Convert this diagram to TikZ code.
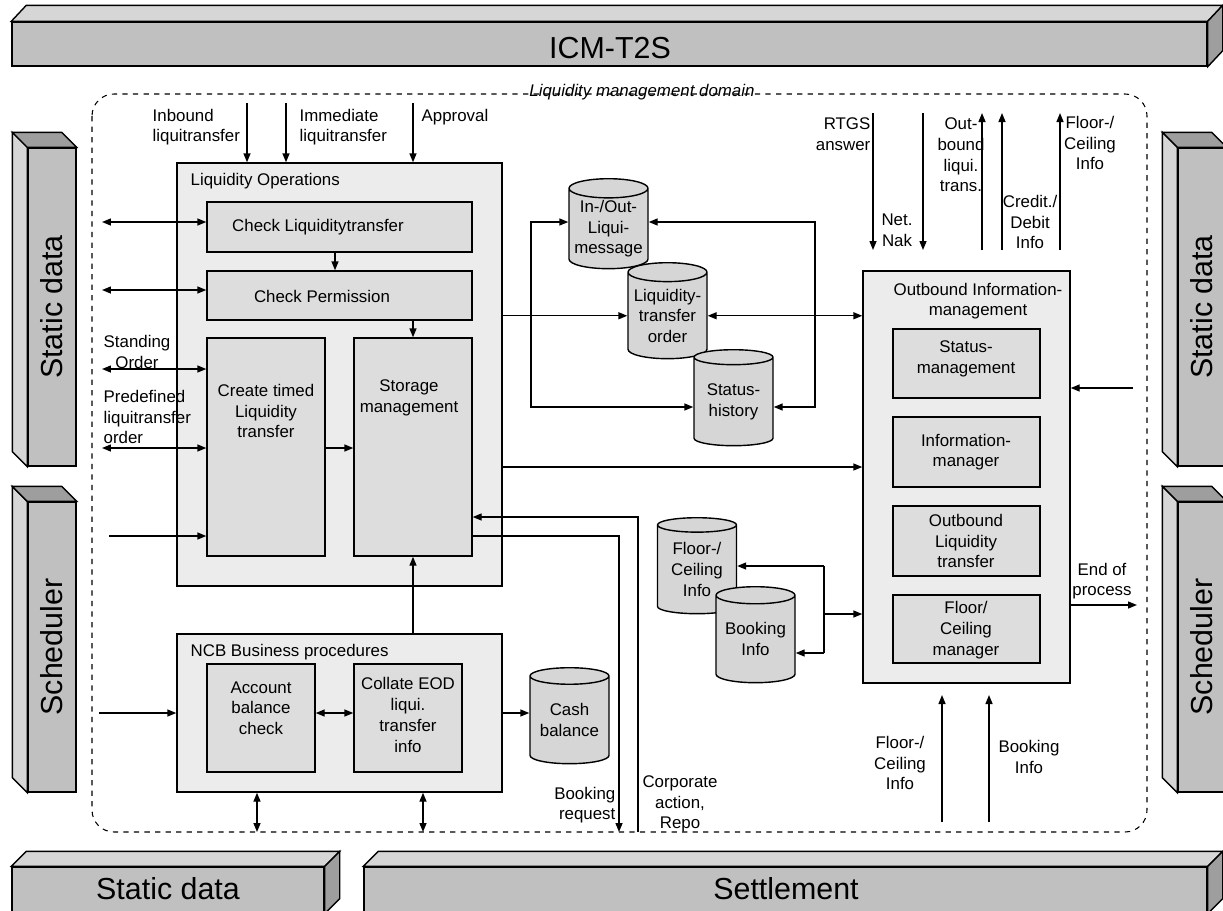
\documentclass[tikz,border=0pt]{standalone}
\usepackage{fontspec}
\setmainfont{Liberation Sans}
\usetikzlibrary{arrows.meta,shapes.geometric,fit}
\definecolor{panel}{RGB}{236,236,236}
\definecolor{procgray}{RGB}{221,221,221}
\definecolor{storegray}{RGB}{214,214,214}
\definecolor{barfront}{RGB}{192,192,192}
\definecolor{barlight}{RGB}{214,214,214}
\definecolor{bardark}{RGB}{158,158,158}
\newcommand{\lblfont}{\fontsize{9.6}{11.8}\selectfont}
\newcommand{\barfont}{\fontsize{17.3}{20}\selectfont}
\tikzset{
  >={Triangle[length=1.8mm,width=1.4mm]},
  group/.style={draw,fill=panel,inner sep=0pt},
  proc/.style={draw,fill=procgray,inner sep=0pt,align=center,font=\lblfont},
  store/.style={cylinder,shape border rotate=90,aspect=0.28,draw,fill=storegray,
    minimum width=15.8mm,minimum height=19.2mm,inner sep=0pt,align=center,font=\lblfont},
  txt/.style={font=\lblfont,align=center,inner sep=0pt},
  barface/.style={draw,fill=barfront,inner sep=0pt},
  bartext/.style={font=\barfont,inner sep=0pt},
  lmdomain/.style={draw,dashed,line width=0.6pt,rounded corners=4.4mm},
}
\begin{document}
\begin{tikzpicture}[x=0.02cm,y=-0.02cm,line width=0.8pt]
\useasboundingbox (0,0) rectangle (1223,910);

% neighbouring systems
\node[barface,fit={(12,22) (1207,66)}] (icm) {};
\draw[fill=barlight] (icm.north west) -- ++(15,-16) -- ([shift={(15,-16)}]icm.north east) -- (icm.north east) -- cycle;
\draw[fill=bardark] (icm.north east) -- ++(15,-16) -- ([shift={(15,-16)}]icm.south east) -- (icm.south east) -- cycle;
\node[bartext] (icm-t) at (610,48) {ICM-T2S};

\node[barface,fit={(12,867) (324,913)}] (sdb) {};
\node[barface,fit={(364,867) (1207,913)}] (settle) {};
\foreach \b in {sdb,settle}{
  \draw[fill=barlight] (\b.north west) -- ++(15,-15) -- ([shift={(15,-15)}]\b.north east) -- (\b.north east) -- cycle;
  \draw[fill=bardark] (\b.north east) -- ++(15,-15) -- ([shift={(15,-15)}]\b.south east) -- (\b.south east) -- cycle;
}
\node[bartext] (sdb-t) at (168,889) {Static data};
\node[bartext] (settle-t) at (786,889) {Settlement};

\node[barface,fit={(28,148) (76,466)}] (sdl) {};
\node[barface,fit={(28,502) (76,792)}] (schl) {};
\node[barface,fit={(1178,148) (1226,466)}] (sdr) {};
\node[barface,fit={(1178,502) (1226,792)}] (schr) {};
\foreach \b in {sdl,schl,sdr,schr}{
  \draw[fill=barlight] (\b.north west) -- ++(-15,-15) -- ([shift={(-15,-15)}]\b.south west) -- (\b.south west) -- cycle;
  \draw[fill=bardark] (\b.north west) -- ++(-15,-15) -- ([shift={(-15,-15)}]\b.north east) -- (\b.north east) -- cycle;
}
\node[bartext,rotate=90] (sdl-t) at (sdl) {Static data};
\node[bartext,rotate=90] (schl-t) at (schl) {Scheduler};
\node[bartext,rotate=90] (sdr-t) at (sdr) {Static data};
\node[bartext,rotate=90] (schr-t) at (schr) {Scheduler};

% domain
\draw[lmdomain] (92,94) rectangle (1147,832);
\node[font=\lblfont\itshape,inner sep=0pt,anchor=base] (dom-t) at (642,96) {Liquidity management domain};

% liquidity operations
\node[group,fit={(177,163) (502,586)}] (liqops) {};
\node[txt,anchor=west] (liqops-t) at (190,181) {Liquidity Operations};
\node[proc,fit={(207,202) (472,252)}] (chkliq) {};
\node[txt] (chkliq-t) at (318,227) {Check Liquiditytransfer};
\node[proc,fit={(207,271) (472,320)}] (chkperm) {};
\node[txt] (chkperm-t) at (322,296) {Check Permission};
\node[proc,fit={(207,338) (325,556)}] (create) {};
\node[txt] (create-t) at (266,411) {Create timed\\Liquidity\\transfer};
\node[proc,fit={(354,338) (472,556)}] (storage) {};
\node[txt] (storage-t) at (409,398) {Storage\\management};

% NCB
\node[group,fit={(177,634) (502,792)}] (ncb) {};
\node[txt,anchor=west] (ncb-t) at (190,652) {NCB Business procedures};
\node[proc,fit={(207,664) (315,772)}] (account) {};
\node[txt] (account-t) at (261,708) {Account\\balance\\check};
\node[proc,fit={(354,664) (462,772)}] (collate) {};
\node[txt] (collate-t) at (408,715) {Collate EOD\\liqui.\\transfer\\info};

% outbound
\node[group,fit={(863,271) (1070,683)}] (outb) {};
\node[txt] (outb-t) at (978,301) {Outbound Information-\\management};
\node[proc,fit={(893,329) (1040,398)}] (statman) {};
\node[txt] (statman-t) at (966,359) {Status-\\management};
\node[proc,fit={(893,417) (1040,487)}] (infoman) {};
\node[txt] (infoman-t) at (966,452) {Information-\\manager};
\node[proc,fit={(893,506) (1040,576)}] (outliq) {};
\node[txt] (outliq-t) at (966,541) {Outbound\\Liquidity\\transfer};
\node[proc,fit={(893,595) (1040,663)}] (floorman) {};
\node[txt] (floorman-t) at (966,630) {Floor/\\Ceiling\\manager};

% stores
\node[store,minimum height=18mm,anchor=north] (inout) at (608.5,178) {In-/Out-\\Liqui-\\message};
\node[store,anchor=north] (lto) at (667.5,262) {Liquidity-\\transfer\\order};
\node[store,anchor=north] (stathist) at (733.5,349) {Status-\\history};
\node[store,anchor=north] (cash) at (569.5,667) {Cash\\balance};
\node[store,anchor=north] (floorinfo) at (697,517) {Floor-/\\Ceiling\\Info};
\node[store,anchor=north] (bookinfo) at (755.5,586) {Booking\\Info};

% inputs from top
\coordinate (inb) at (247,103);
\coordinate (imm) at (286,103);
\coordinate (appr) at (413,103);
\foreach \c in {inb,imm,appr} \draw[->] (\c) -- (\c |- liqops.north);
\node[txt,anchor=west,align=left] (inb-t) at (152,127) {Inbound\\liquitransfer};
\node[txt,anchor=west,align=left] (imm-t) at (299,127) {Immediate\\liquitransfer};
\node[txt,anchor=west] (appr-t) at (421,117) {Approval};

% left side links
\coordinate (sd1) at (102,222);
\coordinate (sd2) at (102,290);
\coordinate (sd3) at (102,369);
\coordinate (sd4) at (102,448);
\coordinate (sch1) at (109,536);
\draw[<->] (sd1) -- (sd1 -| chkliq.west);
\draw[<->] (sd2) -- (sd2 -| chkperm.west);
\draw[<->] (sd3) -- (sd3 -| create.west);
\draw[<->] (sd4) -- (sd4 -| create.west);
\draw[->] (sch1) -- (sch1 -| create.west);
\node[txt] (sd3-t) at (137,352) {Standing\\Order};
\node[txt,anchor=west,align=left] (sd4-t) at (103,417) {Predefined\\liquitransfer\\order};

% internal flow
\coordinate (lnk) at (335,252);
\draw[->] (chkliq.south -| lnk) -- (chkperm.north -| lnk);
\draw[->] (chkperm.south -| appr) -- (storage.north -| appr);
\draw[->] (ncb.north -| appr) -- (storage.south -| appr);
\draw[->] (sd4 -| create.east) -- (sd4 -| storage.west);

% stores links
\draw[->] (liqops.east |- lto.west) -- (lto.west);
\draw[<->] (lto.east) -- (lto.east -| outb.west);
\coordinate (lt) at (531,222);
\coordinate (lb) at (531,407);
\coordinate (rt) at (815,222);
\coordinate (rb) at (815,407);
\draw[<->] (lt -| inout.west) -- (lt) -- (lb) -- (lb -| stathist.west);
\draw[<->] (rt -| inout.east) -- (rt) -- (rb) -- (rb -| stathist.east);
\coordinate (info) at (502,467);
\draw[->] (info -| liqops.east) -- (info -| outb.west);

% settlement links
\coordinate (corp) at (638,832);
\coordinate (corpk) at (638,517);
\draw[->] (corp) -- (corpk) -- (corpk -| storage.east);
\coordinate (bkk) at (619,536);
\coordinate (bkreq) at (619,832);
\draw[->] (bkk -| storage.east) -- (bkk) -- (bkreq);
\node[txt,anchor=east,align=right] (bkreq-t) at (616,805) {Booking\\request};
\node[txt] (corp-t) at (680,804) {Corporate\\action,\\Repo};

% NCB row
\coordinate (sch2) at (99,713);
\draw[->] (sch2) -- (sch2 -| ncb.west);
\draw[<->] (sch2 -| account.east) -- (sch2 -| collate.west);
\draw[->] (sch2 -| ncb.east) -- (sch2 -| cash.west);
\coordinate (sdb1) at (257,832);
\coordinate (sdb2) at (423,832);
\draw[<->] (sdb1 |- ncb.south) -- (sdb1);
\draw[<->] (sdb2 |- ncb.south) -- (sdb2);

% floor / booking stores
\coordinate (ft) at (824,566);
\coordinate (fm) at (824,614);
\coordinate (fb) at (824,653);
\draw (ft) -- (fb);
\draw[->] (ft) -- (ft -| floorinfo.east);
\draw[->] (fb) -- (fb -| bookinfo.east);
\draw[->] (fm) -- (fm -| outb.west);

% top right
\coordinate (rtgs) at (873,113);
\coordinate (nak) at (923,113);
\coordinate (obl) at (982,250);
\coordinate (cdi) at (1002,250);
\coordinate (fci) at (1060,250);
\foreach \c in {rtgs,nak} \draw[->] (\c) -- (\c |- obl);
\foreach \c in {obl,cdi,fci} \draw[->] (\c) -- (\c |- rtgs);
\node[txt,anchor=east,align=right] (rtgs-t) at (871,134) {RTGS\\answer};
\node[txt] (nak-t) at (897,230) {Net.\\Nak};
\node[txt] (obl-t) at (961,155) {Out-\\bound\\liqui.\\trans.};
\node[txt] (cdi-t) at (1030,222) {Credit./\\Debit\\Info};
\node[txt] (fci-t) at (1090,143) {Floor-/\\Ceiling\\Info};

% right side
\coordinate (sdin) at (1133,388);
\draw[->] (sdin) -- (sdin -| outb.east);
\coordinate (eop) at (1137,605);
\draw[->] (eop -| outb.east) -- (eop);
\node[txt] (eop-t) at (1102,581) {End of\\process};

% bottom right
\coordinate (fcb) at (942,822);
\coordinate (bib) at (989,822);
\coordinate (fce) at (942,695);
\draw[->] (fcb) -- (fce);
\draw[->] (bib) -- (bib |- fce);
\node[txt] (fcb-t) at (900,763) {Floor-/\\Ceiling\\Info};
\node[txt] (bib-t) at (1029,757) {Booking\\Info};
\end{tikzpicture}
\end{document}
